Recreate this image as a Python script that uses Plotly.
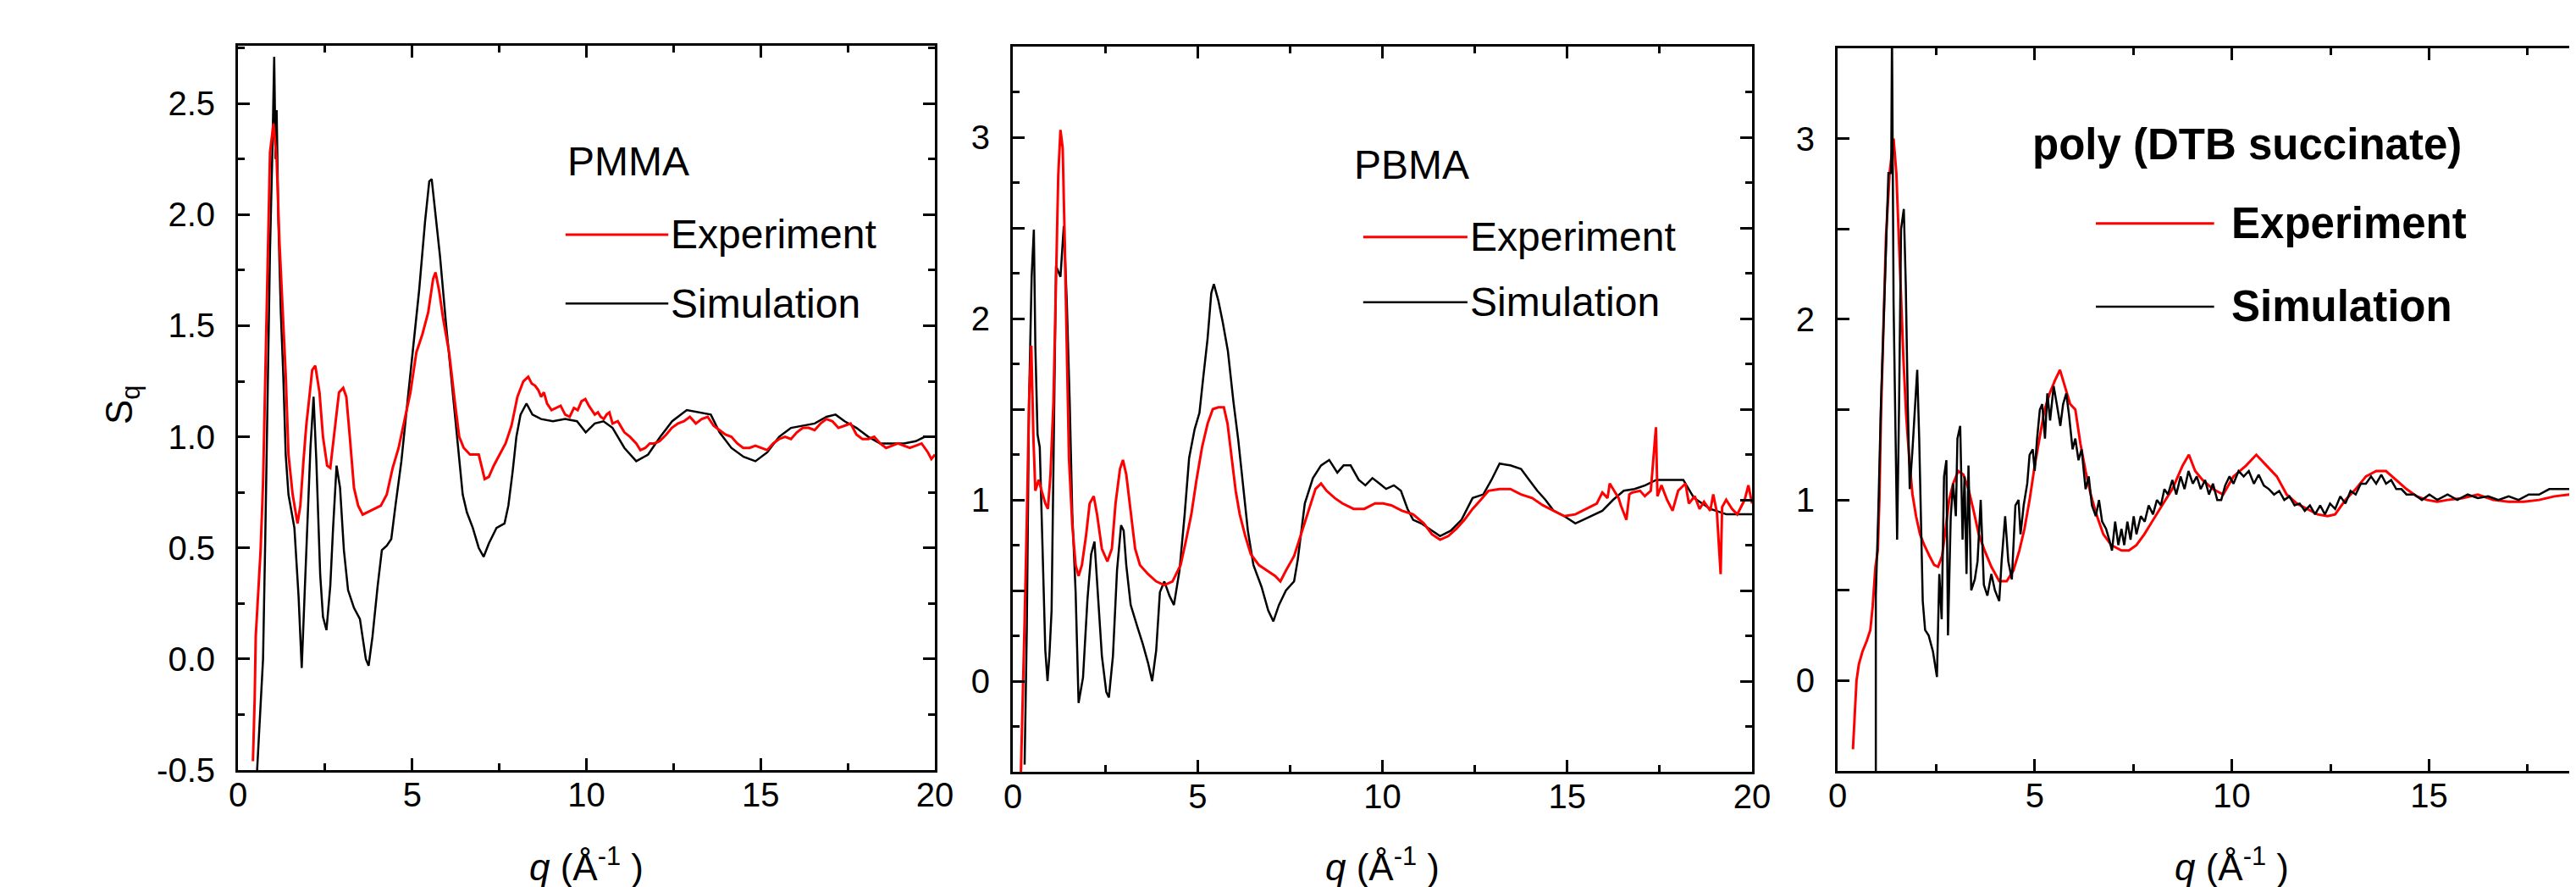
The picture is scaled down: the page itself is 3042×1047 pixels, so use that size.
import plotly.graph_objects as go

# ---------------- DATA ----------------
# Panel 1: PMMA
pmma_q_exp = [0.43, 0.48, 0.51, 0.65, 0.72, 0.78, 0.85, 0.92, 1.02, 1.11, 1.19, 1.28, 1.37, 1.45, 1.57, 1.71,
              1.79, 1.88, 1.96, 2.05, 2.13, 2.22, 2.34, 2.44, 2.56, 2.65, 2.73, 2.82, 2.90, 3.02, 3.11, 3.21,
              3.33, 3.45, 3.58, 3.84, 4.10, 4.27, 4.44, 4.61, 4.78, 4.95, 5.12, 5.29, 5.46, 5.60, 5.67, 5.77,
              5.89, 6.06, 6.23, 6.35, 6.48, 6.66, 6.91, 7.08, 7.20, 7.34, 7.51, 7.68, 7.85, 8.02, 8.19, 8.33,
              8.43, 8.53, 8.62, 8.70, 8.78, 8.87, 9.00, 9.13, 9.26, 9.39, 9.52, 9.64, 9.75, 9.86, 9.97, 10.07,
              10.15, 10.24, 10.33, 10.41, 10.50, 10.58, 10.66, 10.75, 10.90, 11.09, 11.25, 11.43, 11.55, 11.69,
              11.82, 11.95, 12.10, 12.29, 12.45, 12.63, 12.80, 12.97, 13.14, 13.31, 13.48, 13.65, 13.82, 13.99,
              14.16, 14.33, 14.50, 14.68, 14.85, 15.02, 15.19, 15.36, 15.53, 15.70, 15.87, 16.04, 16.21, 16.38,
              16.55, 16.72, 16.89, 17.06, 17.23, 17.41, 17.58, 17.75, 17.92, 18.09, 18.26, 18.43, 18.60, 18.77,
              18.94, 19.11, 19.28, 19.45, 19.62, 19.80, 19.90, 20.0]
pmma_s_exp = [-0.46, -0.18, 0.10, 0.49, 0.79, 1.28, 1.81, 2.28, 2.41, 2.25, 1.88, 1.58, 1.28, 0.92, 0.74, 0.61,
              0.69, 0.89, 1.05, 1.18, 1.30, 1.32, 1.20, 1.00, 0.87, 0.86, 0.97, 1.10, 1.20, 1.22, 1.18, 1.00,
              0.77, 0.69, 0.65, 0.67, 0.69, 0.74, 0.86, 0.95, 1.07, 1.20, 1.38, 1.46, 1.56, 1.71, 1.74, 1.66,
              1.53, 1.38, 1.15, 1.00, 0.95, 0.92, 0.92, 0.81, 0.82, 0.87, 0.92, 0.97, 1.05, 1.18, 1.25, 1.27,
              1.24, 1.23, 1.21, 1.18, 1.20, 1.15, 1.12, 1.13, 1.14, 1.10, 1.09, 1.13, 1.12, 1.16, 1.17, 1.14,
              1.12, 1.10, 1.11, 1.09, 1.08, 1.10, 1.11, 1.06, 1.07, 1.02, 1.00, 0.97, 0.94, 0.95,
              0.97, 0.97, 0.98, 1.01, 1.04, 1.06, 1.07, 1.09, 1.06, 1.08, 1.09, 1.05, 1.03, 1.01,
              1.00, 0.97, 0.95, 0.95, 0.96, 0.95, 0.94, 0.97, 0.99, 1.00, 0.99, 1.02, 1.04, 1.04,
              1.03, 1.06, 1.08, 1.07, 1.04, 1.05, 1.06, 1.01, 0.99, 0.99, 1.00, 0.97, 0.95, 0.96,
              0.97, 0.96, 0.95, 0.96, 0.97, 0.93, 0.90, 0.92]
pmma_q_sim = [0.55, 0.65, 0.72, 0.78, 0.85, 0.92, 0.99, 1.04, 1.08, 1.11, 1.16, 1.23, 1.30, 1.37, 1.45, 1.62,
              1.74, 1.83, 1.91, 2.00, 2.08, 2.17, 2.25, 2.36, 2.44, 2.54, 2.65, 2.73, 2.83, 2.93, 3.04, 3.16,
              3.33, 3.50, 3.67, 3.75, 3.86, 4.01, 4.13, 4.27, 4.40, 4.52, 4.69, 4.86, 5.03, 5.20, 5.37, 5.49,
              5.56, 5.66, 5.80, 5.97, 6.14, 6.31, 6.45, 6.57, 6.74, 6.91, 7.05, 7.20, 7.42, 7.65, 7.76, 7.88,
              7.99, 8.11, 8.28, 8.45, 8.70, 9.04, 9.39, 9.73, 9.98, 10.24, 10.49, 10.75, 11.09, 11.43, 11.77,
              12.12, 12.46, 12.88, 13.23, 13.57, 13.82, 14.16, 14.51, 14.85, 15.19, 15.53, 15.87, 16.21, 16.55,
              16.89, 17.15, 17.41, 17.75, 18.09, 18.43, 18.77, 19.11, 19.45, 19.71, 20.0]
pmma_s_sim = [-0.50, -0.23, 0.00, 0.51, 1.15, 1.84, 2.30, 2.71, 2.25, 2.47, 1.97, 1.56, 1.28, 0.92, 0.74, 0.59,
              0.28, -0.04, 0.28, 0.66, 0.95, 1.18, 0.89, 0.38, 0.19, 0.13, 0.33, 0.59, 0.87, 0.77, 0.49, 0.31,
              0.23, 0.18, 0.00, -0.03, 0.10, 0.33, 0.49, 0.51, 0.54, 0.69, 0.89, 1.15, 1.41, 1.66, 1.97, 2.15,
              2.16, 2.02, 1.81, 1.51, 1.23, 0.97, 0.74, 0.66, 0.59, 0.50, 0.46, 0.52, 0.59, 0.61, 0.69, 0.84,
              1.00, 1.10, 1.15, 1.10, 1.08, 1.07, 1.08, 1.07, 1.02, 1.06, 1.07, 1.04, 0.95, 0.89, 0.92,
              1.00, 1.07, 1.12, 1.11, 1.10, 1.02, 0.95, 0.91, 0.89, 0.93, 1.00, 1.04, 1.05, 1.06,
              1.09, 1.10, 1.07, 1.04, 1.00, 0.97, 0.97, 0.97, 0.98, 1.00, 1.00]

# Panel 2: PBMA
pbma_q_exp = [0.22, 0.26, 0.32, 0.38, 0.44, 0.50, 0.56, 0.61, 0.70, 0.78, 0.88, 0.95, 1.02, 1.10, 1.17, 1.23,
              1.29, 1.35, 1.40, 1.46, 1.52, 1.61, 1.70, 1.78, 1.87, 1.98, 2.08, 2.19, 2.28, 2.41, 2.56, 2.68,
              2.78, 2.90, 2.98, 3.07, 3.19, 3.31, 3.44, 3.66, 3.88, 4.10, 4.32, 4.54, 4.68, 4.83, 4.97, 5.12,
              5.27, 5.41, 5.56, 5.71, 5.81, 5.93, 6.03, 6.14, 6.29, 6.44, 6.66, 6.88, 7.10, 7.24, 7.39, 7.61,
              7.83, 8.05, 8.19, 8.34, 8.49, 8.71, 8.92, 9.22, 9.51, 9.80, 10.02, 10.24, 10.53, 10.83, 11.12,
              11.34, 11.56, 11.78, 12.00, 12.22, 12.44, 12.66, 12.87, 13.17, 13.46, 13.75, 14.05, 14.34, 14.63,
              14.92, 15.22, 15.51, 15.80, 15.95, 16.09, 16.15, 16.39, 16.45, 16.60, 16.68, 16.75, 16.97, 17.10,
              17.26, 17.40, 17.44, 17.55, 17.70, 17.85, 18.00, 18.10, 18.20, 18.29, 18.45, 18.58, 18.70, 18.87,
              18.95, 19.05, 19.15, 19.19, 19.30, 19.46, 19.60, 19.75, 19.80, 19.90, 20.0]
pbma_s_exp = [-0.50, -0.10, 0.33, 0.89, 1.54, 1.85, 1.33, 1.05, 1.11, 1.05, 0.98, 0.95, 1.14, 1.54, 2.20, 2.79,
              3.04, 2.94, 2.48, 1.85, 1.23, 0.86, 0.64, 0.58, 0.64, 0.80, 0.98, 1.02, 0.92, 0.73, 0.66, 0.73,
              0.98, 1.17, 1.22, 1.14, 0.92, 0.73, 0.64, 0.59, 0.55, 0.53, 0.55, 0.64, 0.77, 0.92, 1.11, 1.29,
              1.42, 1.50, 1.51, 1.51, 1.42, 1.23, 1.05, 0.92, 0.80, 0.70, 0.64, 0.61, 0.58, 0.55, 0.61, 0.69,
              0.83, 0.98, 1.06, 1.09, 1.05, 1.01, 0.98, 0.95, 0.95, 0.98, 0.98, 0.97, 0.94, 0.92, 0.87,
              0.81, 0.78, 0.80, 0.84, 0.89, 0.95, 1.00, 1.05, 1.06, 1.06, 1.03, 1.01, 0.97, 0.94,
              0.91, 0.92, 0.95, 0.98, 1.04, 1.01, 1.09, 1.01, 0.97, 0.89, 1.03, 1.04, 1.05, 1.02,
              1.05, 1.40, 1.02, 1.08, 1.00, 0.94, 1.05, 1.07, 1.09, 0.98, 1.02, 0.95, 0.99, 0.94,
              1.03, 0.93, 0.59, 0.96, 1.00, 0.95, 0.92, 0.98, 1.00, 1.08, 0.98]
pbma_q_sim = [0.32, 0.38, 0.44, 0.51, 0.57, 0.61, 0.67, 0.73, 0.80, 0.88, 0.94, 0.99, 1.05, 1.11, 1.17, 1.29,
              1.38, 1.46, 1.54, 1.61, 1.70, 1.78, 1.90, 2.02, 2.12, 2.21, 2.30, 2.41, 2.53, 2.60, 2.71, 2.82,
              2.93, 3.00, 3.07, 3.19, 3.37, 3.51, 3.66, 3.77, 3.88, 3.98, 4.10, 4.24, 4.36, 4.51, 4.65, 4.77,
              4.92, 5.05, 5.15, 5.27, 5.37, 5.44, 5.56, 5.68, 5.82, 5.97, 6.10, 6.22, 6.36, 6.51, 6.73, 6.91,
              7.05, 7.20, 7.39, 7.61, 7.71, 7.90, 8.12, 8.34, 8.56, 8.78, 8.95, 9.14, 9.36, 9.54, 9.73, 9.92,
              10.10, 10.31, 10.50, 10.68, 10.83, 11.05, 11.27, 11.56, 11.85, 12.14, 12.44, 12.73, 12.95, 13.17,
              13.46, 13.75, 13.97, 14.19, 14.41, 14.63, 14.92, 15.22, 15.43, 15.65, 15.95, 16.24, 16.53, 16.82,
              17.11, 17.41, 17.70, 18.14, 18.43, 18.87, 19.31, 19.75, 20.0]
pbma_s_sim = [-0.46, 0.30, 1.54, 2.23, 2.49, 1.85, 1.36, 1.29, 0.77, 0.17, 0.00, 0.14, 0.39, 1.42, 2.29, 2.23,
              2.51, 2.10, 1.54, 0.92, 0.49, -0.12, 0.02, 0.45, 0.70, 0.77, 0.49, 0.14, -0.06, -0.09, 0.14, 0.61,
              0.86, 0.83, 0.64, 0.42, 0.30, 0.21, 0.10, 0.00, 0.17, 0.49, 0.55, 0.47, 0.42, 0.61, 0.92, 1.23,
              1.39, 1.48, 1.67, 1.89, 2.14, 2.19, 2.10, 1.98, 1.82, 1.54, 1.33, 1.11, 0.83, 0.64, 0.52, 0.39,
              0.33, 0.42, 0.50, 0.55, 0.67, 0.98, 1.12, 1.19, 1.22, 1.15, 1.19, 1.19, 1.11, 1.08, 1.12, 1.09,
              1.06, 1.08, 1.05, 0.95, 0.89, 0.87, 0.84, 0.80, 0.83, 0.89, 1.01, 1.03, 1.11, 1.20,
              1.19, 1.17, 1.11, 1.05, 1.00, 0.94, 0.91, 0.87, 0.89, 0.91, 0.94, 1.00, 1.05, 1.06,
              1.08, 1.11, 1.11, 1.11, 1.01, 0.95, 0.92, 0.92, 0.92]

# Panel 3: poly (DTB succinate)
dtb_q_exp = [0.39, 0.44, 0.48, 0.54, 0.63, 0.74, 0.83, 0.89, 0.96, 1.02, 1.06, 1.10, 1.16, 1.23, 1.32, 1.42,
             1.49, 1.54, 1.60, 1.67, 1.74, 1.82, 1.90, 1.99, 2.09, 2.20, 2.33, 2.45, 2.55, 2.65, 2.74, 2.83,
             2.93, 3.06, 3.19, 3.32, 3.45, 3.58, 3.73, 3.90, 4.10, 4.29, 4.46, 4.61, 4.74, 4.87, 5.00, 5.12,
             5.25, 5.38, 5.51, 5.64, 5.77, 5.90, 6.03, 6.16, 6.29, 6.42, 6.58, 6.74, 6.94, 7.20, 7.39, 7.58,
             7.78, 7.97, 8.23, 8.49, 8.75, 8.91, 9.07, 9.26, 9.52, 9.78, 10.04, 10.36, 10.62, 10.88, 11.14,
             11.39, 11.65, 11.91, 12.17, 12.43, 12.62, 12.88, 13.14, 13.40, 13.66, 13.91, 14.17, 14.43, 14.69,
             14.95, 15.21, 15.47, 15.85, 16.24, 16.63, 17.02, 17.40, 17.79, 18.18, 18.57, 18.93]
dtb_s_exp = [-0.38, -0.16, 0.00, 0.09, 0.16, 0.22, 0.28, 0.41, 0.63, 0.72, 1.00, 1.47, 1.91, 2.47, 2.81, 3.00,
             2.81, 2.53, 2.16, 1.78, 1.47, 1.22, 1.03, 0.91, 0.81, 0.75, 0.69, 0.64, 0.63, 0.69, 0.84, 1.00,
             1.09, 1.16, 1.14, 1.06, 0.94, 0.81, 0.72, 0.63, 0.55, 0.55, 0.61, 0.72, 0.84, 1.00, 1.19, 1.34,
             1.50, 1.59, 1.66, 1.72, 1.63, 1.53, 1.50, 1.31, 1.16, 1.03, 0.91, 0.81, 0.75, 0.72, 0.72, 0.75,
             0.81, 0.88, 0.97, 1.06, 1.19, 1.25, 1.16, 1.11, 1.06, 1.03, 1.13, 1.19, 1.25, 1.19, 1.13,
             1.03, 0.98, 0.95, 0.92, 0.91, 0.92, 1.00, 1.06, 1.13, 1.16, 1.16, 1.11, 1.06, 1.02,
             1.00, 0.99, 1.00, 1.01, 1.03, 1.00, 0.99, 0.99, 1.00, 1.02, 1.03, 1.02]
dtb_q_sim = [0.97, 0.97, 1.03, 1.10, 1.19, 1.29, 1.36, 1.38, 1.42, 1.46, 1.51, 1.56, 1.61, 1.68, 1.73, 1.78,
             1.83, 1.90, 1.98, 2.02, 2.07, 2.12, 2.16, 2.22, 2.31, 2.42, 2.52, 2.58, 2.64, 2.70, 2.76, 2.80,
             2.87, 2.93, 3.00, 3.04, 3.11, 3.17, 3.22, 3.27, 3.32, 3.39, 3.48, 3.55, 3.63, 3.71, 3.80, 3.90,
             3.99, 4.10, 4.16, 4.25, 4.33, 4.42, 4.51, 4.59, 4.64, 4.72, 4.81, 4.87, 4.95, 5.00, 5.06, 5.13,
             5.19, 5.26, 5.32, 5.39, 5.48, 5.56, 5.65, 5.72, 5.80, 5.87, 5.96, 6.03, 6.11, 6.19, 6.29, 6.37,
             6.45, 6.55, 6.63, 6.71, 6.81, 6.89, 6.96, 7.04, 7.12, 7.20, 7.27, 7.35, 7.43, 7.51, 7.58, 7.69,
             7.79, 7.89, 8.00, 8.10, 8.20, 8.29, 8.38, 8.49, 8.59, 8.70, 8.80, 8.90, 9.01, 9.11, 9.21, 9.32,
             9.42, 9.52, 9.63, 9.73, 9.83, 9.94, 10.04, 10.17, 10.30, 10.43, 10.56, 10.68, 10.81, 10.94, 11.07,
             11.20, 11.33, 11.46, 11.59, 11.72, 11.85, 11.98, 12.11, 12.24, 12.36, 12.49, 12.62, 12.75, 12.88,
             13.01, 13.14, 13.27, 13.40, 13.53, 13.66, 13.79, 13.91, 14.04, 14.17, 14.30, 14.43, 14.63, 14.82,
             15.01, 15.21, 15.47, 15.72, 15.98, 16.24, 16.50, 16.76, 17.02, 17.27, 17.53, 17.79, 18.05, 18.31,
             18.57, 18.93]
dtb_s_sim = [-0.50, 0.47, 0.91, 1.53, 2.13, 2.81, 2.81, 3.60, 2.09, 1.48, 0.78, 1.53, 2.50, 2.61, 2.19, 1.53,
             1.06, 1.28, 1.59, 1.72, 1.34, 0.91, 0.44, 0.28, 0.25, 0.16, 0.02, 0.59, 0.34, 1.13, 1.22, 0.25,
             0.91, 1.09, 0.91, 1.34, 1.41, 0.78, 1.13, 0.59, 1.19, 0.50, 0.56, 0.66, 1.00, 0.53, 0.47, 0.59,
             0.50, 0.44, 0.66, 0.91, 0.66, 0.56, 0.97, 1.00, 0.81, 0.97, 1.09, 1.25, 1.28, 1.16, 1.34, 1.50,
             1.53, 1.34, 1.59, 1.44, 1.63, 1.53, 1.41, 1.53, 1.59, 1.47, 1.28, 1.34, 1.22, 1.28, 1.06, 1.13,
             0.97, 0.91, 1.00, 0.88, 0.84, 0.78, 0.72, 0.88, 0.75, 0.84, 0.75, 0.88, 0.78, 0.91, 0.81, 0.91,
             0.88, 0.97, 0.92, 1.00, 0.97, 1.06, 1.03, 1.11, 1.03, 1.13, 1.06, 1.16, 1.09, 1.13, 1.06, 1.11,
             1.03, 1.09, 1.00, 1.00, 1.08, 1.13, 1.09, 1.16, 1.13, 1.16, 1.09, 1.14, 1.08, 1.06, 1.03,
             1.05, 1.00, 1.02, 0.97, 0.98, 0.94, 0.97, 0.92, 0.97, 0.92, 0.98, 0.95, 1.02, 0.98,
             1.05, 1.03, 1.09, 1.09, 1.13, 1.09, 1.14, 1.09, 1.11, 1.06, 1.06, 1.03, 1.03, 1.00,
             1.03, 1.00, 1.03, 1.00, 1.03, 1.01, 1.02, 1.00, 1.02, 1.00, 1.03, 1.03, 1.06, 1.06,
             1.06, 1.06]

panel_titles = ["PMMA", "PBMA", "poly (DTB succinate)"]
legend_names = ["Experiment", "Simulation"]
x_title = "<i>q</i> (Å<sup>-1</sup> )"
y_title = "S<sub>q</sub>"

# ---------------- STYLE ----------------
FONT = "Liberation Sans, Arial, sans-serif"
RED = "#ff0000"
BLACK = "#000000"
W, H = 3042, 1047

fig = go.Figure()

series = [
    ("x", "y", pmma_q_exp, pmma_s_exp, pmma_q_sim, pmma_s_sim, True),
    ("x2", "y2", pbma_q_exp, pbma_s_exp, pbma_q_sim, pbma_s_sim, True),
    ("x3", "y3", dtb_q_exp, dtb_s_exp, dtb_q_sim, dtb_s_sim, False),
]
for xa, ya, qe, se, qs, ss, red_top in series:
    exp_tr = go.Scatter(x=qe, y=se, mode="lines", line=dict(color=RED, width=3),
                        xaxis=xa, yaxis=ya, showlegend=False, name=legend_names[0])
    sim_tr = go.Scatter(x=qs, y=ss, mode="lines", line=dict(color=BLACK, width=2.5),
                        xaxis=xa, yaxis=ya, showlegend=False, name=legend_names[1])
    if red_top:
        fig.add_trace(sim_tr); fig.add_trace(exp_tr)
    else:
        fig.add_trace(exp_tr); fig.add_trace(sim_tr)


def px_dom(a, b, total):
    return [a / total, b / total]


def ydom(top, bottom):
    return [(H - bottom) / H, (H - top) / H]


tickfont = dict(family=FONT, size=40, color="black")


def xaxis(dom, rng, anchor):
    return dict(domain=dom, range=rng, anchor=anchor, showline=True, linecolor="black", linewidth=3,
                mirror="ticks", ticks="inside", ticklen=14, tickwidth=3, tickcolor="black",
                tick0=0, dtick=5, showgrid=False, zeroline=False, tickfont=tickfont,
                ticklabelstandoff=-8, automargin=False,
                minor=dict(ticks="inside", ticklen=8, tickwidth=3, tickcolor="black", dtick=2.5, showgrid=False))


def yaxis(dom, rng, anchor, tvals, ttext, minor_dtick, mirror):
    d = dict(domain=dom, range=rng, anchor=anchor, showline=True, linecolor="black", linewidth=3,
             mirror=mirror, ticks="inside", ticklen=14, tickwidth=3, tickcolor="black",
             tickmode="array", tickvals=tvals, ticktext=ttext, showgrid=False, zeroline=False,
             tickfont=tickfont, ticklabelstandoff=16, automargin=False)
    if minor_dtick:
        d["minor"] = dict(ticks="inside", ticklen=8, tickwidth=3, tickcolor="black", dtick=minor_dtick,
                          tick0=0, showgrid=False)
    return d


y1_vals = [-0.5, 0.0, 0.5, 1.0, 1.5, 2.0, 2.5]
y1_text = ["-0.5", "0.0", "0.5", "1.0", "1.5", "2.0", "2.5"]
y23_vals = [-0.5, 0, 0.5, 1, 1.5, 2, 2.5, 3, 3.5]
y23_text = ["", "0", "", "1", "", "2", "", "3", ""]

fig.update_layout(
    width=W, height=H, template="none",
    paper_bgcolor="white", plot_bgcolor="white",
    margin=dict(l=0, r=0, t=0, b=0, pad=0),
    xaxis=xaxis(px_dom(273, 1096, W), [0, 20], "y"),
    yaxis=yaxis(ydom(46, 901), [-0.5, 2.76], "x", y1_vals, y1_text, 0.25, "ticks"),
    xaxis2=xaxis(px_dom(1188, 2061, W), [0, 20], "y2"),
    yaxis2=yaxis(ydom(47, 903), [-0.5, 3.5], "x2", y23_vals, y23_text, 0.25, "ticks"),
    xaxis3=xaxis([2162 / W, 1.0], [0, 18.9], "y3"),
    yaxis3=yaxis(ydom(49, 902), [-0.5, 3.5], "x3", y23_vals, y23_text, None, False),
    showlegend=False,
)

ann = []
shapes = []

# legends / labels inside panels (positions in data coordinates of each panel)
legend_layout = [
    # xa, ya, title_x, title_y, line_x0, line_x1, exp_y, sim_y, text_x, size, bold
    ("x", "y", 9.40, 2.24, 9.40, 12.35, 1.91, 1.60, 12.37, 48, False),
    ("x2", "y2", 9.19, 2.85, 9.48, 12.30, 2.45, 2.09, 12.32, 48, False),
    ("x3", "y3", 4.90, 2.97, 6.55, 9.55, 2.53, 2.07, 9.95, 51, True),
]
for i, (xa, ya, tx, ty, lx0, lx1, ey, sy, txt_x, fs, bold) in enumerate(legend_layout):
    fam = "Liberation Sans, Arial, sans-serif"
    def b(s):
        return f"<b>{s}</b>" if bold else s
    ann.append(dict(x=tx, y=ty, xref=xa, yref=ya, text=b(panel_titles[i]), showarrow=False,
                    xanchor="left", yanchor="middle", font=dict(family=fam, size=fs, color="black")))
    shapes.append(dict(type="line", xref=xa, yref=ya, x0=lx0, x1=lx1, y0=ey, y1=ey,
                       line=dict(color=RED, width=3)))
    shapes.append(dict(type="line", xref=xa, yref=ya, x0=lx0, x1=lx1, y0=sy, y1=sy,
                       line=dict(color=BLACK, width=2.5)))
    ann.append(dict(x=txt_x, y=ey, xref=xa, yref=ya, text=b(legend_names[0]), showarrow=False,
                    xanchor="left", yanchor="middle", font=dict(family=fam, size=fs, color="black")))
    ann.append(dict(x=txt_x, y=sy, xref=xa, yref=ya, text=b(legend_names[1]), showarrow=False,
                    xanchor="left", yanchor="middle", font=dict(family=fam, size=fs, color="black")))

# x-axis titles centred at q = 10 of each panel
for xa in ["x", "x2", "x3"]:
    ann.append(dict(x=10, y=(H - 1012) / H, xref=xa, yref="paper", text=x_title, showarrow=False,
                    xanchor="center", yanchor="middle", font=dict(family=FONT, size=44, color="black")))

# y-axis title of the first panel
ann.append(dict(x=136 / W, y=(H - 470) / H, xref="paper", yref="paper", text=y_title, showarrow=False,
                textangle=-90, xanchor="center", yanchor="middle",
                font=dict(family=FONT, size=44, color="black")))

fig.update_layout(annotations=ann, shapes=shapes)
fig.write_html("out.html")
